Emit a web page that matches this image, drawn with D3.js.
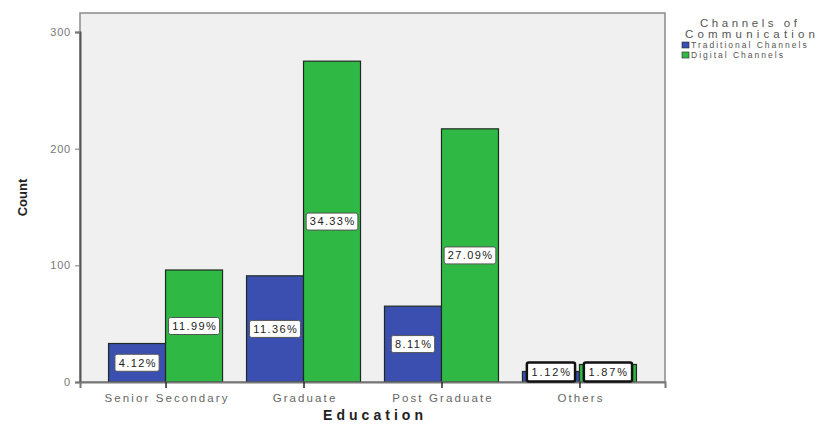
<!DOCTYPE html>
<html><head><meta charset="utf-8">
<script src="https://cdn.jsdelivr.net/npm/d3@7"></script>
<style>body{margin:0;background:#fff;}svg{display:block;font-family:"Liberation Sans",Arial,sans-serif;}</style>
</head><body><svg id="c" width="817" height="424"></svg>
<script>
const categories = ["Senior Secondary", "Graduate", "Post Graduate", "Others"];
const seriesNames = ["Traditional Channels", "Digital Channels"];
const traditional = [33, 91, 65, 9];
const digital = [96, 275, 217, 15];
const traditionalPct = ["4.12%", "11.36%", "8.11%", "1.12%"];
const digitalPct = ["11.99%", "34.33%", "27.09%", "1.87%"];
const yTicks = [0, 100, 200, 300];

const svg = d3.select("#c");
const L = 80, R = 665, T = 13, B = 382;
const colors = ["#3a4fb0", "#2fb944"];

svg.append("rect").attr("x", L).attr("y", T).attr("width", R - L).attr("height", B - T)
  .attr("fill", "#f0f0f0").attr("stroke", "#8a8a8a").attr("stroke-width", 1.5);

const y = d3.scaleLinear().domain([0, 300]).range([B, B - 350]);
const x = d3.scalePoint().domain(categories).range([L, R]).padding(0.62);
const bw = 57;

const data = [];
categories.forEach((c, i) => {
  data.push({cat: c, s: 0, v: traditional[i], pct: traditionalPct[i]});
  data.push({cat: c, s: 1, v: digital[i], pct: digitalPct[i]});
});

const bx = d => x(d.cat) + (d.s === 0 ? -bw : 0);

svg.selectAll("rect.bar").data(data).enter().append("rect").attr("class", "bar")
  .attr("x", bx).attr("y", d => y(d.v)).attr("width", bw).attr("height", d => B - y(d.v))
  .attr("fill", d => colors[d.s]).attr("stroke", "#1f2a22").attr("stroke-width", 1.2);

// y axis
const yAxis = svg.append("g").attr("transform", `translate(${L},0)`)
  .call(d3.axisLeft(y).tickValues(yTicks).tickSize(5).tickPadding(4));
yAxis.select(".domain").attr("stroke", "#555").attr("stroke-width", 2);
yAxis.selectAll(".tick line").attr("stroke", "#777");
yAxis.selectAll("text").attr("fill", "#777").attr("font-size", 11).attr("letter-spacing", 0.8);

// x axis
const xAxis = svg.append("g").attr("transform", `translate(0,${B})`)
  .call(d3.axisBottom(x).tickSize(6).tickPadding(6));
xAxis.select(".domain").attr("stroke", "#777").attr("stroke-width", 2);
xAxis.selectAll(".tick line").attr("stroke", "#1f2a22").attr("stroke-width", 1.5);
xAxis.selectAll("text").attr("fill", "#666").attr("font-size", 11.5)
  .attr("letter-spacing", 2.1).attr("dx", 1);

// value labels
const lab = svg.selectAll("g.lab").data(data).enter().append("g").attr("class", "lab")
  .attr("transform", d => {
    const cy = Math.min((y(d.v) + B) / 2, B - 10);
    return `translate(${bx(d) + bw / 2},${cy})`;
  });
lab.each(function(d) {
  const g = d3.select(this);
  const small = d.v < 20;
  const t = g.append("text").text(d.pct).attr("text-anchor", "middle").attr("dy", "0.35em")
    .attr("dx", 0.7).attr("font-size", 11).attr("fill", "#222").attr("letter-spacing", small ? 1.8 : 1.4);
  const w = t.node().getComputedTextLength() + (small ? 8 : 6);
  const h = small ? 19 : 17;
  g.insert("rect", "text").attr("x", -w / 2).attr("y", -h / 2).attr("width", w).attr("height", h)
    .attr("rx", 2).attr("fill", "#fff").attr("stroke", small ? "#111" : "#555")
    .attr("stroke-width", small ? 2.5 : 1);
});

// axis titles
svg.append("text").attr("x", 373).attr("y", 420).attr("text-anchor", "middle")
  .attr("font-size", 14).attr("font-weight", "bold").attr("fill", "#222")
  .attr("textLength", 100).attr("lengthAdjust", "spacing")
  .text("Education");
svg.append("text").attr("transform", `translate(27,${(T + B) / 2}) rotate(-90)`)
  .attr("text-anchor", "middle").attr("font-size", 13).attr("font-weight", "bold").attr("fill", "#222")
  .text("Count");

// legend
const lg = svg.append("g");
lg.append("text").attr("x", 700).attr("y", 27).attr("font-size", 11.5)
  .attr("fill", "#555").attr("textLength", 97).attr("lengthAdjust", "spacing").text("Channels of");
lg.append("text").attr("x", 685).attr("y", 38).attr("font-size", 11.5)
  .attr("fill", "#555").attr("textLength", 130).attr("lengthAdjust", "spacing").text("Communication");
seriesNames.forEach((n, i) => {
  lg.append("rect").attr("x", 682).attr("y", 42 + i * 10).attr("width", 7).attr("height", 6)
    .attr("fill", colors[i]).attr("stroke", "#222").attr("stroke-width", 0.6);
  lg.append("text").attr("x", 691).attr("y", 48 + i * 10).attr("font-size", 8.5)
    .attr("fill", "#555").attr("letter-spacing", 2).text(n);
});
</script></body></html>
